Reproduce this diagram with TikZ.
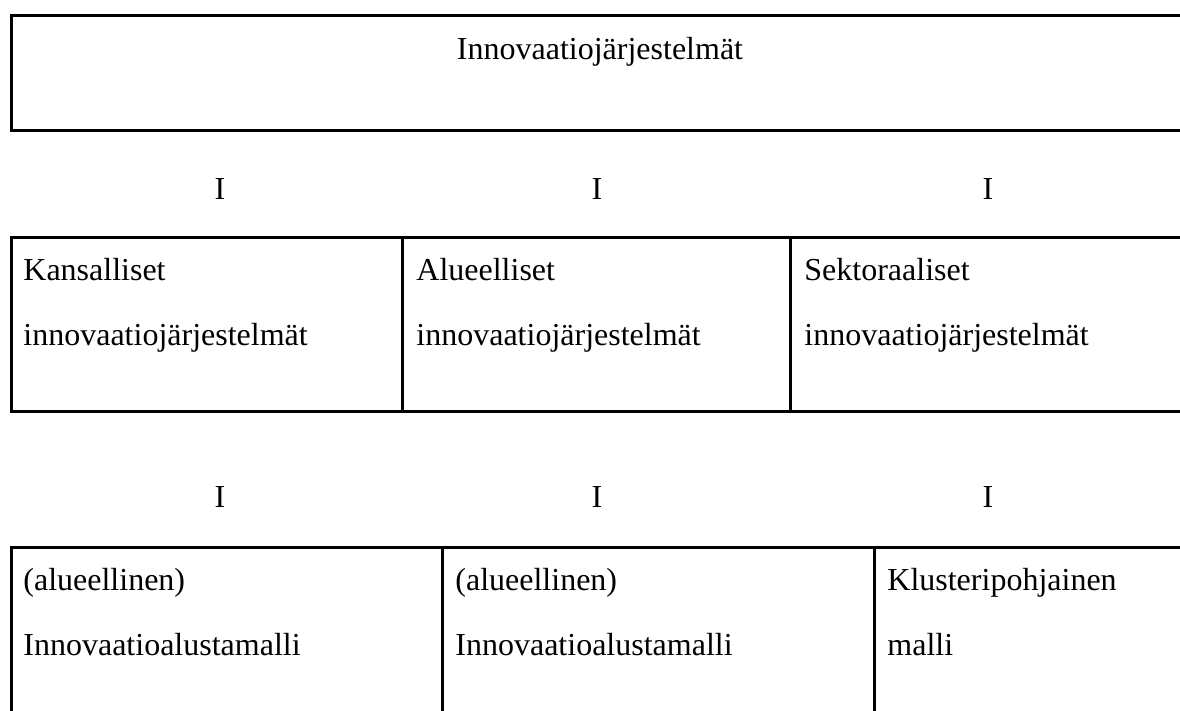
\documentclass[tikz,border=0pt]{standalone}
\usepackage{fontspec}
\setmainfont{Liberation Serif}
\begin{document}
\begin{tikzpicture}[x=0.5pt,y=-0.5pt,
  cell/.style={draw=black,line width=1.5pt,rectangle,inner sep=0pt,anchor=north west},
  txt/.style={font=\fontsize{16}{19}\selectfont,anchor=base west,inner sep=0pt},
  bar/.style={font=\fontsize{16}{19}\selectfont,anchor=base,inner sep=0pt}]
\useasboundingbox (0,0) rectangle (1180,711);
\clip (0,0) rectangle (1180,711);
% top box
\node[cell,minimum width=590pt,minimum height=57.25pt] (topbox) at (10,14.5) {};
\node[bar] (title) at (600,60) {Innovaatiojärjestelmät};
% I row 1
\node[bar] (i1) at (220,200) {I};
\node[bar] (i2) at (597,200) {I};
\node[bar] (i3) at (988,200) {I};
% row 2 cells
\node[cell,minimum width=195.5pt,minimum height=87pt] (r2a) at (10,236) {};
\node[cell,minimum width=194pt,minimum height=87pt] (r2b) at (401,236) {};
\node[cell,minimum width=210pt,minimum height=87pt] (r2c) at (789,236) {};
\node[txt] (t2a1) at (23,281) {Kansalliset};
\node[txt] (t2a2) at (23,346) {innovaatiojärjestelmät};
\node[txt] (t2b1) at (416,281) {Alueelliset};
\node[txt] (t2b2) at (416,346) {innovaatiojärjestelmät};
\node[txt] (t2c1) at (804,281) {Sektoraaliset};
\node[txt] (t2c2) at (804,346) {innovaatiojärjestelmät};
% I row 2
\node[bar] (j1) at (220,508) {I};
\node[bar] (j2) at (597,508) {I};
\node[bar] (j3) at (988,508) {I};
% row 3 cells
\node[cell,minimum width=215.5pt,minimum height=100pt] (r3a) at (10,546) {};
\node[cell,minimum width=216pt,minimum height=100pt] (r3b) at (441,546) {};
\node[cell,minimum width=180pt,minimum height=100pt] (r3c) at (873,546) {};
\node[txt] (t3a1) at (23,590) {(alueellinen)};
\node[txt] (t3a2) at (23,655) {Innovaatioalustamalli};
\node[txt] (t3b1) at (455,590) {(alueellinen)};
\node[txt] (t3b2) at (455,655) {Innovaatioalustamalli};
\node[txt] (t3c1) at (887,590) {Klusteripohjainen};
\node[txt] (t3c2) at (887,655) {malli};
\end{tikzpicture}
\end{document}
